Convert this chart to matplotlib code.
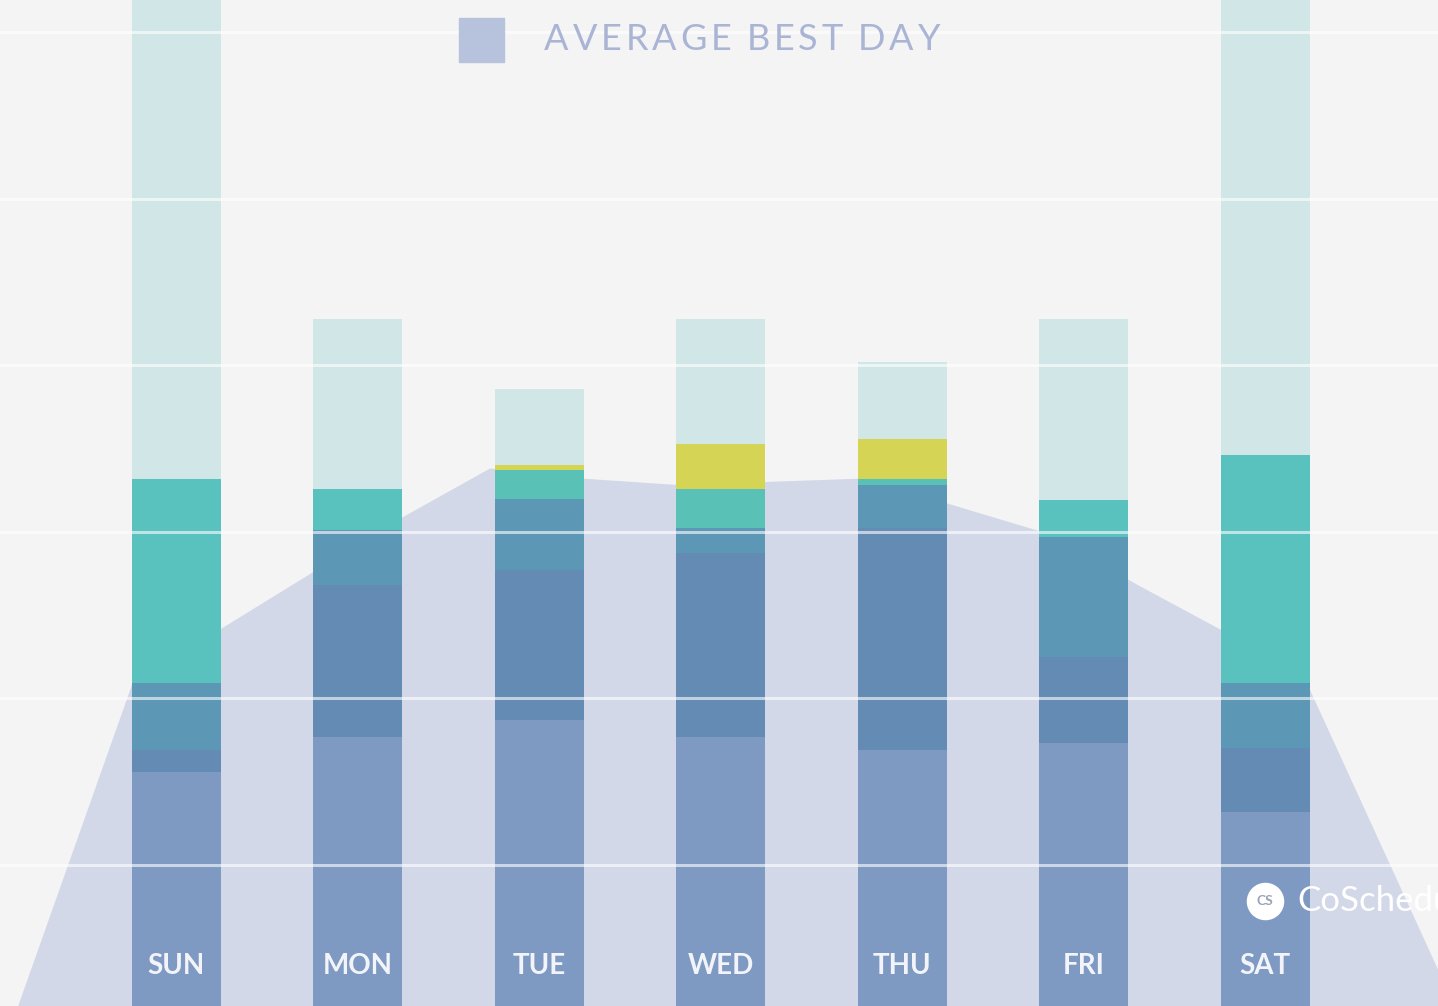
import numpy as np
import matplotlib
matplotlib.use('Agg')
import matplotlib.pyplot as plt

days = ['SUN', 'MON', 'TUE', 'WED', 'THU', 'FRI', 'SAT']

# bar layers, each one drawn from the baseline up to its top value (0 = not there)
light_teal = [64.0, 42.8, 38.6, 42.8, 40.2, 42.8, 64.0]
yellow     = [0.0, 0.0, 34.0, 35.3, 35.6, 0.0, 0.0]
teal       = [33.2, 32.6, 33.7, 32.6, 33.2, 31.9, 34.6]
blue_teal  = [20.9, 30.1, 32.0, 30.2, 32.8, 29.7, 20.9]
blue       = [16.9, 26.8, 27.7, 28.7, 30.2, 22.5, 17.0]
periwinkle = [15.6, 17.7, 18.7, 17.7, 16.9, 17.3, 13.2]

# average best day outline (x in day units)
avg_x = [-0.92, -0.24, 1.22, 1.73, 2.23, 2.78, 3.27, 3.79, 4.28, 4.80, 5.30, 5.76, 6.24, 7.11]
avg_y = [0.0, 20.9, 30.7, 33.8, 33.2, 32.8, 33.0, 33.2, 31.6, 29.9, 26.8, 24.1, 20.7, 0.0]

grid_vals = [10, 20, 30, 40, 50, 60]
legend_label = 'AVERAGE BEST DAY'

bg = '#f4f4f4'
fig = plt.figure(figsize=(14.38, 10.06), dpi=100, facecolor=bg)
ax = fig.add_axes([0, 0, 1, 1])
ax.set_facecolor(bg)
ax.set_xlim(-0.97, 6.953)
ax.set_ylim(1.54, 61.92)
ax.axis('off')

ax.fill(avg_x, avg_y, color='#d2d8e8', zorder=1, lw=0)

x = np.arange(len(days))
layers = [(light_teal, '#cfe6e6'), (yellow, '#d6d34b'), (teal, '#52c0bd'),
          (blue_teal, '#5d95b5'), (blue, '#648bb4'), (periwinkle, '#809bc3')]
for vals, col in layers:
    ax.bar(x, vals, width=0.49, color=col, alpha=0.94, zorder=2, lw=0)

for g in grid_vals:
    ax.axhline(g, color='white', alpha=0.6, lw=2.2, zorder=3)

for i, d in enumerate(days):
    ax.text(i, 3.95, d, ha='center', va='center', color='#f2f4fa',
            fontsize=20, fontweight='bold', family='Lato', zorder=5)

# legend: box + letter-spaced label
fig.patches.append(plt.Rectangle((459/1438, 1 - 62/1006), 45/1438, 44/1006,
                                 transform=fig.transFigure, color='#b7c2dd'))
r = fig.canvas.get_renderer()
W, H = 1438, 1006
start, end = 544, 940
widths = []
for ch in legend_label:
    t = fig.text(0, 0, ch if ch != ' ' else 'I', fontsize=26, family='Lato')
    w = t.get_window_extent(r).width
    t.remove()
    widths.append(w * (0.7 if ch == ' ' else 1.0))
track = (end - start - sum(widths)) / (len(legend_label) - 1)
xp = start
for ch, w in zip(legend_label, widths):
    if ch != ' ':
        fig.text(xp / W, 1 - 40 / H, ch, ha='left', va='center',
                 color='#aab5d5', fontsize=26, family='Lato')
    xp += w + track

# logo
ax.scatter([6.0], [7.84], s=26**2, color='white', zorder=6)
ax.text(6.0, 7.84, 'CS', ha='center', va='center', color='#9aa3b5',
        fontsize=10, fontweight='bold', family='Lato', zorder=7)
ax.text(6.18, 7.84, 'CoSchedule', ha='left', va='center', color='white',
        fontsize=25, family='Lato', zorder=6)

fig.savefig('out.png', dpi=100, facecolor=bg)
